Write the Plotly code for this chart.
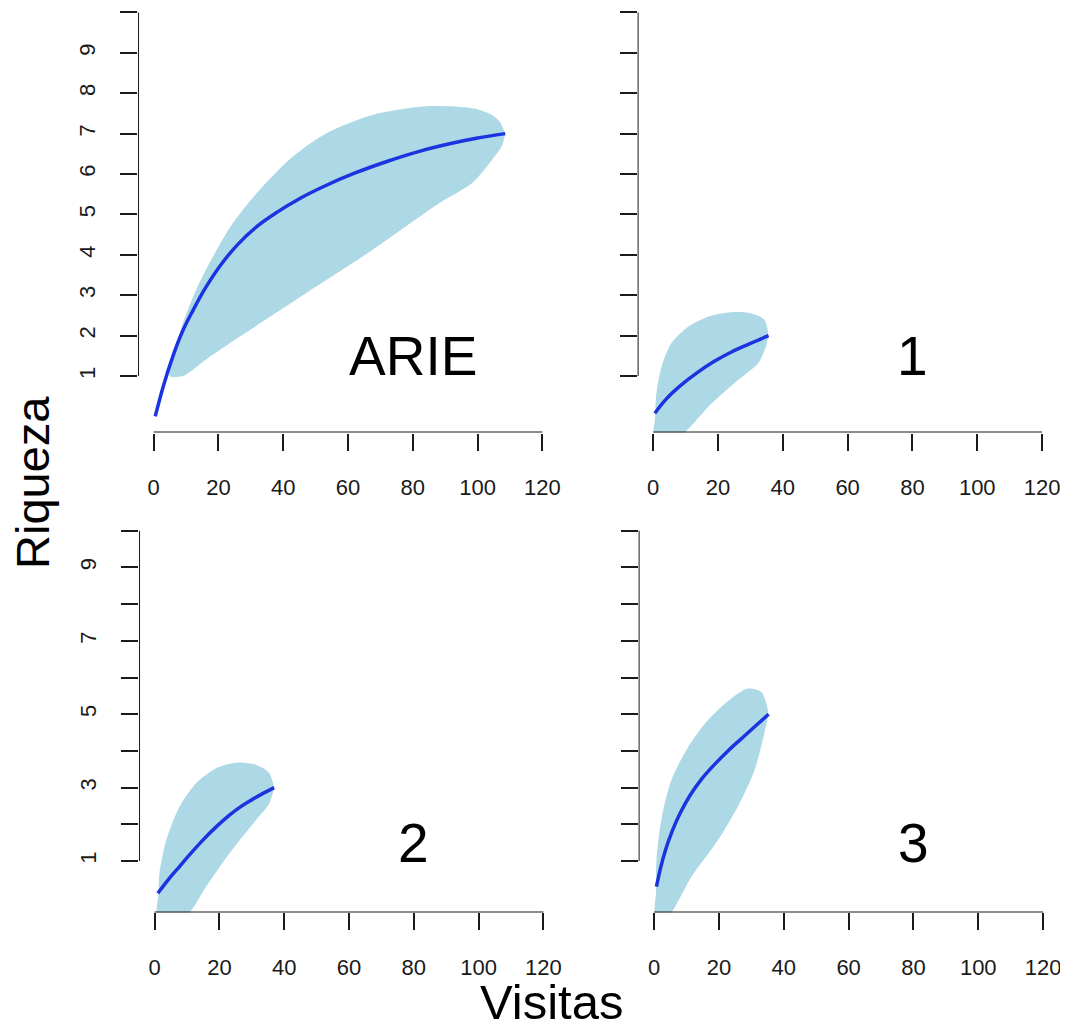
import plotly.graph_objects as go

# page has an 8px body margin; figure is sized so the page is 1068x1026
OFF = 8
W, H = 1068 - OFF, 1026 - OFF

# ---------------- data ----------------
panel_labels = ["ARIE", "1", "2", "3"]

arie_x = [0.5, 3, 6, 9, 12, 16, 21, 26, 32, 38, 45, 53, 62, 72, 82, 92, 100, 108.5]
arie_y = [0.0, 0.75, 1.5, 2.12, 2.6, 3.18, 3.78, 4.26, 4.71, 5.05, 5.39, 5.71, 6.02, 6.31, 6.56, 6.76, 6.89, 7.0]
arie_up_x = [5.0, 6.5, 9.0, 13.1, 18.3, 24.4, 32.6, 42.9, 53.1, 67.5, 83, 93, 100, 104, 106.8, 108.5]
arie_up_y = [1.0, 1.6, 2.3, 3.13, 3.95, 4.78, 5.6, 6.43, 7.0, 7.46, 7.67, 7.67, 7.6, 7.48, 7.3, 7.0]
arie_lo_x = [5.0, 9.0, 16, 26.5, 47, 67.5, 88, 98.2, 104.4, 107.5, 108.5]
arie_lo_y = [1.0, 1.0, 1.4, 1.97, 3.05, 4.12, 5.27, 5.77, 6.35, 6.7, 7.0]

s1_x = [0.5, 4, 8.5, 13.5, 19, 24, 29.5, 35.6]
s1_y = [0.08, 0.43, 0.77, 1.08, 1.37, 1.59, 1.79, 2.0]
s1_up_x = [0.5, 0.6, 1.0, 2.6, 5.6, 10.8, 16.9, 24.1, 30.3, 34.4, 35.6]
s1_up_y = [-0.5, 0.0, 0.57, 1.23, 1.81, 2.22, 2.47, 2.58, 2.55, 2.39, 2.0]
s1_lo_x = [0.5, 7.8, 18, 26.2, 32.3, 34.8, 35.6]
s1_lo_y = [-0.5, -0.5, 0.32, 0.9, 1.31, 1.73, 2.0]

s2_x = [1.0, 4.3, 7.7, 11.3, 14.9, 19.0, 23.1, 26.7, 30.2, 33.6, 36.9]
s2_y = [0.12, 0.5, 0.85, 1.22, 1.57, 1.93, 2.25, 2.49, 2.68, 2.85, 3.0]
s2_up_x = [1.0, 1.2, 1.5, 3.6, 7.7, 12.8, 19, 25.1, 31.3, 35.4, 36.9]
s2_up_y = [-0.5, 0.1, 0.66, 1.57, 2.48, 3.12, 3.53, 3.68, 3.62, 3.39, 3.0]
s2_lo_x = [1.0, 9.5, 15.9, 23.1, 31.3, 35.4, 36.9]
s2_lo_y = [-0.5, -0.5, 0.3, 1.21, 2.12, 2.57, 3.0]

s3_x = [0.7, 2, 3.5, 5.5, 8, 11, 14.5, 18.5, 23, 28, 31.5, 35.3]
s3_y = [0.3, 0.82, 1.3, 1.8, 2.3, 2.78, 3.22, 3.62, 4.02, 4.42, 4.7, 5.0]
s3_up_x = [0.5, 0.6, 0.7, 2.2, 5.3, 10.5, 16.6, 23.8, 28.9, 33.0, 34.6, 35.3]
s3_up_y = [-0.5, 0.2, 1.03, 2.12, 3.2, 4.11, 4.84, 5.43, 5.7, 5.61, 5.3, 5.0]
s3_lo_x = [0.5, 4.2, 11.5, 19.7, 25.8, 31.0, 34.0, 35.3]
s3_lo_y = [-0.5, -0.5, 0.57, 1.57, 2.48, 3.48, 4.48, 5.0]

x_ticks = [0, 20, 40, 60, 80, 100, 120]
y_ticks = [1, 2, 3, 4, 5, 6, 7, 8, 9, 10]
y_text_top = ["1", "2", "3", "4", "5", "6", "7", "8", "9", ""]
y_text_bottom = ["1", "", "3", "", "5", "", "7", "", "9", ""]

x_title = "Visitas"
y_title = "Riqueza"

# ---------------- styling ----------------
BAND = "#ADD8E6"
LINE = "#1A35E0"
AX = "#1a1a1a"
FONT = "Liberation Sans, Arial, Helvetica, sans-serif"

XR = [-4.8, 124.8]
YR = [-0.4, 10.05]

# pixel boxes of each panel in the page (left, right, top, bottom)
boxes = [
    (138.4, 559.6, 10.4, 432.6),
    (639.4, 1060.6, 10.4, 432.6),
    (139.4, 560.6, 528.9, 912.4),
    (640.4, 1061.6, 528.9, 912.4),
]


def px_x(p):
    return (p - OFF) / W


def px_y(p):
    return 1 - (p - OFF) / H


series = [
    (arie_x, arie_y, arie_up_x, arie_up_y, arie_lo_x, arie_lo_y),
    (s1_x, s1_y, s1_up_x, s1_up_y, s1_lo_x, s1_lo_y),
    (s2_x, s2_y, s2_up_x, s2_up_y, s2_lo_x, s2_lo_y),
    (s3_x, s3_y, s3_up_x, s3_up_y, s3_lo_x, s3_lo_y),
]

fig = go.Figure()
shapes = []
annotations = []
layout = dict(
    width=W, height=H,
    margin=dict(l=0, r=0, t=0, b=0),
    paper_bgcolor="white", plot_bgcolor="white",
    showlegend=False,
    font=dict(family=FONT, color="black"),
)

for i, (box, s) in enumerate(zip(boxes, series)):
    n = "" if i == 0 else str(i + 1)
    xa, ya = "x" + n, "y" + n
    cx, cy, ux, uy, lx, ly = s
    poly_x = list(ux) + list(reversed(lx))
    poly_y = list(uy) + list(reversed(ly))
    fig.add_trace(go.Scatter(
        x=poly_x, y=poly_y, fill="toself", fillcolor=BAND,
        mode="lines", line=dict(width=0, shape="spline", smoothing=0.8),
        xaxis=xa, yaxis=ya, hoverinfo="skip"))
    fig.add_trace(go.Scatter(
        x=cx, y=cy, mode="lines",
        line=dict(color=LINE, width=3.5, shape="spline", smoothing=1.0),
        xaxis=xa, yaxis=ya))

    l, r, t, b = box
    left_col = i in (0, 2)
    top_row = i in (0, 1)
    layout["xaxis" + n] = dict(
        domain=[px_x(l), px_x(r)], range=XR, anchor=ya,
        showgrid=False, zeroline=False, showline=False,
        tickmode="array", tickvals=x_ticks, ticktext=[str(v) for v in x_ticks],
        ticks="outside", ticklen=17, tickwidth=2, tickcolor=AX,
        tickfont=dict(size=22, family=FONT, color=AX),
        ticklabelstandoff=18,
        fixedrange=True,
    )
    layout["yaxis" + n] = dict(
        domain=[px_y(b), px_y(t)], range=YR, anchor=xa,
        showgrid=False, zeroline=False, showline=False,
        tickmode="array", tickvals=y_ticks,
        ticktext=(y_text_top if top_row else y_text_bottom) if left_col else [""] * len(y_ticks),
        ticks="outside", ticklen=17, tickwidth=2, tickcolor=AX,
        tickfont=dict(size=22, family=FONT, color=AX),
        tickangle=-90, ticklabelstandoff=16,
        fixedrange=True,
    )
    # R-style axis lines spanning first..last tick
    shapes.append(dict(type="line", xref=xa, yref=ya, x0=x_ticks[0], x1=x_ticks[-1],
                       y0=YR[0], y1=YR[0], line=dict(color=AX, width=2)))
    shapes.append(dict(type="line", xref=xa, yref=ya, x0=XR[0], x1=XR[0],
                       y0=y_ticks[0], y1=y_ticks[-1], line=dict(color=AX, width=2)))
    annotations.append(dict(text=panel_labels[i], x=80, y=1.5, xref=xa, yref=ya,
                            showarrow=False, xanchor="center", yanchor="middle",
                            font=dict(size=55, family=FONT, color="black")))

annotations.append(dict(text=y_title, x=px_x(32), y=px_y(482), xref="paper", yref="paper",
                        showarrow=False, textangle=-90, xanchor="center", yanchor="middle",
                        font=dict(size=47, family=FONT, color="black")))
annotations.append(dict(text=x_title, x=px_x(553), y=px_y(1002), xref="paper", yref="paper",
                        showarrow=False, xanchor="center", yanchor="middle",
                        font=dict(size=49, family=FONT, color="black")))

layout["shapes"] = shapes
layout["annotations"] = annotations
fig.update_layout(**layout)
fig.write_html("out.html")
